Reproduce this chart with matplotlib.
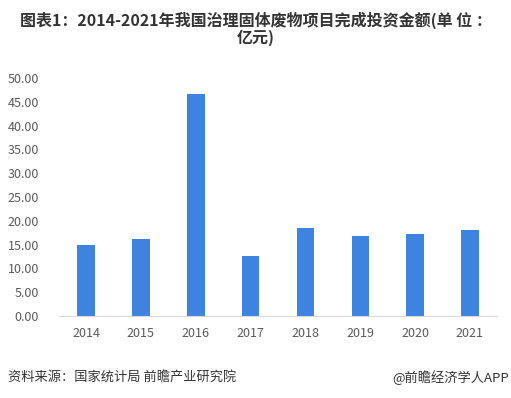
import matplotlib
matplotlib.use('Agg')
import matplotlib.pyplot as plt

plt.rcParams['font.family'] = ['Noto Sans CJK SC', 'DejaVu Sans']

years = ['2014', '2015', '2016', '2017', '2018', '2019', '2020', '2021']
invest = [15.0, 16.1, 46.7, 12.7, 18.4, 16.9, 17.3, 18.0]
yticks = [0, 5, 10, 15, 20, 25, 30, 35, 40, 45, 50]

fig = plt.figure(figsize=(5.11, 3.98), dpi=100)
ax = fig.add_axes([0.1147, 0.206, 0.8587, 0.598])

ax.bar(range(len(years)), invest, width=0.32, color='#3f83e0')
ax.set_xlim(-0.5, len(years) - 0.5)
ax.set_ylim(0, 50)
ax.set_xticks(range(len(years)))
ax.set_xticklabels(years, fontsize=9, color='#595959')
ax.set_yticks(yticks)
ax.set_yticklabels(['%.2f' % v for v in yticks], fontsize=9, color='#595959')
ax.tick_params(length=0)
ax.tick_params(axis='x', pad=8)
ax.tick_params(axis='y', pad=14)
for s in ['top', 'right', 'left']:
  ax.spines[s].set_visible(False)
ax.spines['bottom'].set_color('#d9d9d9')

fig.text(0.5, 0.928, '图表1：2014-2021年我国治理固体废物项目完成投资金额(单 位 ：\n亿元)',
         ha='center', va='center', fontsize=11.5, fontweight='bold', color='#333333',
         linespacing=1.05)
fig.text(0.015, 0.052, '资料来源：国家统计局 前瞻产业研究院', ha='left', va='center',
         fontsize=9.5, color='#333333')
fig.text(0.997, 0.052, '@前瞻经济学人APP', ha='right', va='center',
         fontsize=9.5, color='#333333')

plt.savefig('out.png', dpi=100)
